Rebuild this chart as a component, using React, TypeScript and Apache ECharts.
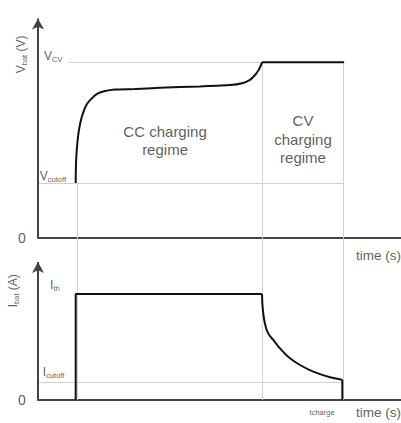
import React, { useEffect, useRef } from "react";
import * as echarts from "echarts";

// ---- data (time in arbitrary units, voltage in V, current in A) ----
const TIME_MAX = 120;
const V_TOP_MAX = 5.1;
const V_TOP_MIN = -0.55;
const V_AXIS_END = 5.0;
const I_MAX = 1.32;
const I_AXIS_END = 1.3;

const V_CV = 4.0;
const V_CUTOFF = 1.25;
const I_TH = 1.0;
const I_CUTOFF = 0.17;
const T_GUIDE_START = 12.9;
const T_CV = 74.0;
const T_CHARGE = 101.0;

const vRiseTime = [12.46, 12.56, 12.89, 13.39, 14.05, 14.88, 16.03, 17.52, 19.5, 21.82, 25.45, 32.07, 40.33, 53.55, 63.47, 67.77, 70.08, 71.74, 72.89, 73.55, 74.05];
const vRiseValue = [1.25, 1.7, 2.07, 2.39, 2.64, 2.84, 3.03, 3.16, 3.28, 3.34, 3.38, 3.39, 3.42, 3.45, 3.48, 3.53, 3.6, 3.71, 3.82, 3.91, 4.0];
const vFlatTime = [74.05, 101.2];
const vFlatValue = [4.0, 4.0];

const iStepTime = [12.46, 12.46, 74.05];
const iStepValue = [0, I_TH, I_TH];
const iDecayTime = [74.05, 74.18, 74.48, 74.98, 75.6, 76.53, 77.79, 80.0, 83.31, 86.61, 91.0, 96.53, 100.6];
const iDecayValue = [1.0, 0.905, 0.811, 0.726, 0.66, 0.608, 0.566, 0.487, 0.393, 0.33, 0.267, 0.214, 0.19];
const iEndTime = [100.6, 100.6];
const iEndValue = [0.19, 0];

const zip = (a: number[], b: number[]) => a.map((v, i) => [v, b[i]]);

const FONT = "Liberation Sans, Arial, sans-serif";
const TXT = "#333";
const AXIS = "#444";
const GUIDE = "#d0d0d0";
const CURVE = "#111";

const rich = {
  m: { fontSize: 12, lineHeight: 15, color: TXT, fontFamily: FONT },
  s: { fontSize: 7.5, lineHeight: 8, padding: [7, 0, 0, 0], color: TXT, fontFamily: FONT },
  t: { fontSize: 15, lineHeight: 18.5, color: TXT, fontFamily: FONT },
  z: { fontSize: 14, lineHeight: 16, color: TXT, fontFamily: FONT },
  tc: { fontSize: 7.5, lineHeight: 10, color: TXT, fontFamily: FONT },
  ax: { fontSize: 13.5, lineHeight: 15, color: TXT, fontFamily: FONT },
};

const lbl = (x: number, y: number, text: string, pos: string, extra: any = {}) => ({
  value: [x, y],
  label: { show: true, formatter: text, position: pos, distance: 0, rich, ...extra },
});

const topLabels = [
  lbl(2.0, 4.15, "{m|V}{s|CV}", "right"),
  lbl(0.6, 1.41, "{m|V}{s|cutoff}", "right"),
  lbl(-5.3, 0, "{z|0}", "inside"),
  lbl(42, 2.22, "{t|CC charging}\n{t|regime}", "inside", { align: "center" }),
  lbl(87.6, 2.25, "{t|CV}\n{t|charging}\n{t|regime}", "inside", { align: "center" }),
  lbl(105.1, -0.41, "{ax|time (s)}", "right"),
  lbl(-5.6, 4.18, "{m|V}{s|bat}{m| (V)}", "inside", { rotate: 90 }),
];

const bottomLabels = [
  lbl(4.0, 1.085, "{m|I}{s|th}", "right"),
  lbl(1.6, 0.26, "{m|I}{s|cutoff}", "right"),
  lbl(-5.3, 0, "{z|0}", "inside"),
  lbl(-8.4, 1.03, "{m|I}{s|bat}{m| (A)}", "inside", { rotate: 90 }),
  lbl(93.9, -0.12, "{tc|t}{tc|charge}", "inside"),
  lbl(105.1, -0.12, "{ax|time (s)}", "right"),
];

const guideLine = (a: number[], b: number[]) => [{ coord: a }, { coord: b }];

export default function App() {
  const ref = useRef<HTMLDivElement>(null);
  useEffect(() => {
    if (!ref.current) return;
    const chart = echarts.init(ref.current, undefined, { renderer: "svg" });
    const xAxisBase = {
      type: "value",
      min: 0,
      max: TIME_MAX,
      axisLine: { show: true, onZero: true, lineStyle: { color: AXIS, width: 2 } },
      axisTick: { show: false },
      axisLabel: { show: false },
      splitLine: { show: false },
    };
    const yAxisBase = {
      type: "value",
      axisLine: { show: false },
      axisTick: { show: false },
      axisLabel: { show: false },
      splitLine: { show: false },
    };
    const markBase = {
      silent: true,
      symbol: ["none", "none"],
      label: { show: false },
      emphasis: { disabled: true },
      animation: false,
    };
    chart.setOption({
      animation: false,
      grid: [
        { left: 38, right: 0, top: 14, bottom: 161 },
        { left: 38, right: 0, top: 260, bottom: 23 },
      ],
      xAxis: [
        { ...xAxisBase, gridIndex: 0 },
        { ...xAxisBase, gridIndex: 1 },
      ],
      yAxis: [
        { ...yAxisBase, gridIndex: 0, min: V_TOP_MIN, max: V_TOP_MAX },
        { ...yAxisBase, gridIndex: 1, min: 0, max: I_MAX },
      ],
      series: [
        {
          type: "line",
          xAxisIndex: 0,
          yAxisIndex: 0,
          data: zip(vRiseTime, vRiseValue),
          smooth: 0.2,
          showSymbol: false,
          lineStyle: { color: CURVE, width: 2 },
          z: 5,
          markLine: {
            ...markBase,
            lineStyle: { color: GUIDE, width: 1, type: "solid" },
            data: [
              guideLine([10, V_CV], [T_CHARGE, V_CV]),
              guideLine([0, V_CUTOFF], [T_CHARGE, V_CUTOFF]),
              guideLine([T_GUIDE_START, V_CUTOFF], [T_GUIDE_START, V_TOP_MIN]),
              guideLine([T_CV, V_CV], [T_CV, V_TOP_MIN]),
              guideLine([T_CHARGE, V_CV], [T_CHARGE, V_TOP_MIN]),
            ],
          },
        },
        {
          type: "line",
          xAxisIndex: 0,
          yAxisIndex: 0,
          data: zip(vFlatTime, vFlatValue),
          showSymbol: false,
          lineStyle: { color: CURVE, width: 2 },
          z: 5,
          markLine: {
            ...markBase,
            symbol: ["none", "arrow"],
            symbolSize: [9, 11],
            lineStyle: { color: AXIS, width: 2, type: "solid" },
            itemStyle: { color: "#111" },
            data: [guideLine([0, 0], [0, V_AXIS_END])],
            z: 6,
          },
        },
        {
          type: "scatter",
          xAxisIndex: 0,
          yAxisIndex: 0,
          symbolSize: 0,
          clip: false,
          silent: true,
          data: topLabels,
        },
        {
          type: "line",
          xAxisIndex: 1,
          yAxisIndex: 1,
          data: zip(iStepTime, iStepValue),
          showSymbol: false,
          lineStyle: { color: CURVE, width: 2 },
          z: 5,
          markLine: {
            ...markBase,
            lineStyle: { color: GUIDE, width: 1, type: "solid" },
            data: [
              guideLine([0, I_CUTOFF], [T_CHARGE, I_CUTOFF]),
              guideLine([T_GUIDE_START, I_MAX], [T_GUIDE_START, 0]),
              guideLine([T_CV, I_MAX], [T_CV, 0]),
              guideLine([T_CHARGE, I_MAX], [T_CHARGE, 0]),
            ],
          },
        },
        {
          type: "line",
          xAxisIndex: 1,
          yAxisIndex: 1,
          data: zip(iDecayTime, iDecayValue),
          smooth: 0.2,
          showSymbol: false,
          lineStyle: { color: CURVE, width: 2 },
          z: 5,
        },
        {
          type: "line",
          xAxisIndex: 1,
          yAxisIndex: 1,
          data: zip(iEndTime, iEndValue),
          showSymbol: false,
          lineStyle: { color: CURVE, width: 2 },
          z: 5,
          markLine: {
            ...markBase,
            symbol: ["none", "arrow"],
            symbolSize: [9, 11],
            lineStyle: { color: AXIS, width: 2, type: "solid" },
            itemStyle: { color: "#111" },
            data: [guideLine([0, 0], [0, I_AXIS_END])],
            z: 6,
          },
        },
        {
          type: "scatter",
          xAxisIndex: 1,
          yAxisIndex: 1,
          symbolSize: 0,
          clip: false,
          silent: true,
          data: bottomLabels,
        },
      ],
    });
    return () => chart.dispose();
  }, []);
  return (
    <div
      ref={ref}
      style={{ position: "absolute", left: 0, top: 0, width: 401, height: 423, background: "#fff" }}
    />
  );
}
